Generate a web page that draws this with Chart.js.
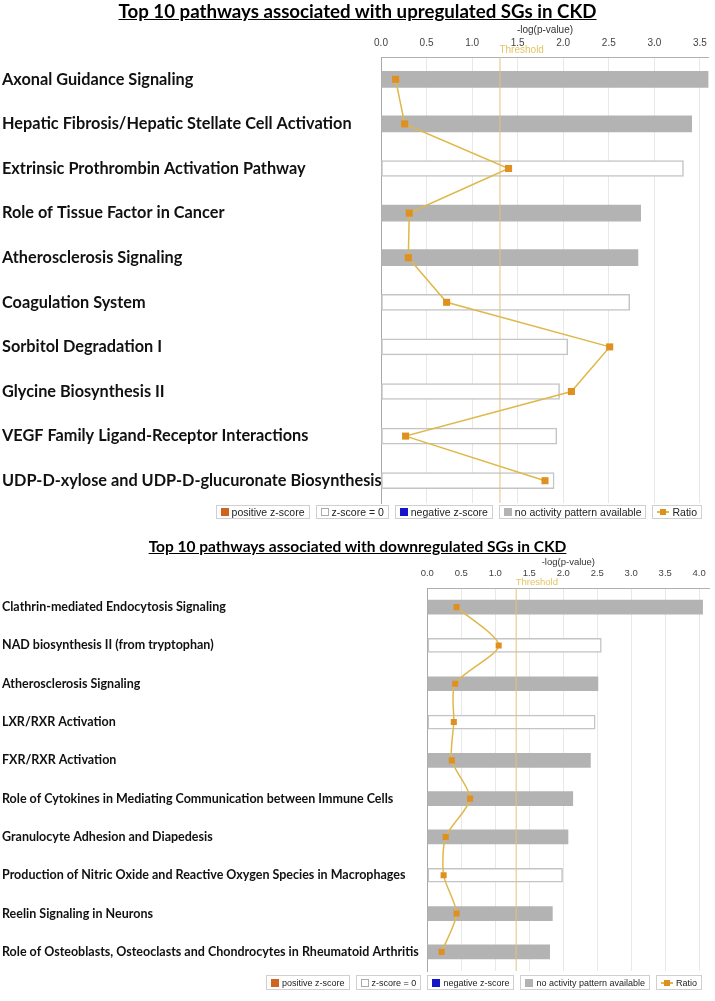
<!DOCTYPE html>
<html>
<head>
<meta charset="utf-8">
<script src="https://cdn.jsdelivr.net/npm/chart.js@4.4.1/dist/chart.umd.min.js"></script>
<style>
  body { margin: 0; background: #fff; }
  #page { position: relative; width: 715px; height: 1001px; overflow: hidden; font-family: Lato, sans-serif; }
  .title { position: absolute; left: 0; width: 715px; text-align: center; font-weight: bold; text-decoration: underline; color: #000; white-space: nowrap; }
  .chartBox { position: absolute; left: 0; width: 715px; }
  .legend { position: absolute; display: flex; font-family: "Liberation Sans", sans-serif; color: #222; }
  .legend .item { display: flex; align-items: center; border: 1px solid #d0d0d0; padding: 0 4px; margin-left: 6px; white-space: nowrap; }
  .legend .sw { display: inline-block; width: 8px; height: 8px; margin-right: 3px; box-sizing: border-box; }
  .legend .ratio { position: relative; width: 12px; height: 8px; margin-right: 3px; }
  .legend .ratio:before { content: ""; position: absolute; left: 0; right: 0; top: 3px; height: 2px; background: #dfb84a; }
  .legend .ratio:after { content: ""; position: absolute; left: 3px; top: 1px; width: 6px; height: 6px; background: #e0901e; }
</style>
</head>
<body>
<div id="page">
  <div class="chartBox" style="top:0; height:513px;"><canvas id="upChart"></canvas></div>
  <div class="title" style="top:0; font-size:18.7px;">Top 10 pathways associated with upregulated SGs in CKD</div>
  <div class="legend" id="upLegend" style="top:505px; right:13px; font-size:10.5px; height:14px;"></div>

  <div class="chartBox" style="top:540px; height:439px;"><canvas id="downChart"></canvas></div>
  <div class="title" style="top:537px; font-size:15.5px;">Top 10 pathways associated with downregulated SGs in CKD</div>
  <div class="legend" id="downLegend" style="top:975px; right:13px; font-size:9px; height:15px;"></div>
</div>
<script>
// upregulated pathways
const upLabels = [
  "Axonal Guidance Signaling",
  "Hepatic Fibrosis/Hepatic Stellate Cell Activation",
  "Extrinsic Prothrombin Activation Pathway",
  "Role of Tissue Factor in Cancer",
  "Atherosclerosis Signaling",
  "Coagulation System",
  "Sorbitol Degradation I",
  "Glycine Biosynthesis II",
  "VEGF Family Ligand-Receptor Interactions",
  "UDP-D-xylose and UDP-D-glucuronate Biosynthesis"
];
const upLogP = [3.59, 3.41, 3.32, 2.85, 2.82, 2.73, 2.05, 1.96, 1.93, 1.90];
const upZscore = ["na", "na", "zero", "na", "na", "zero", "zero", "zero", "zero", "zero"];
const upRatio = [0.16, 0.26, 1.40, 0.31, 0.30, 0.72, 2.51, 2.09, 0.27, 1.80];
const upTicks = [0.0, 0.5, 1.0, 1.5, 2.0, 2.5, 3.0, 3.5];

// downregulated pathways
const downLabels = [
  "Clathrin-mediated Endocytosis Signaling",
  "NAD biosynthesis II (from tryptophan)",
  "Atherosclerosis Signaling",
  "LXR/RXR Activation",
  "FXR/RXR Activation",
  "Role of Cytokines in Mediating Communication between Immune Cells",
  "Granulocyte Adhesion and Diapedesis",
  "Production of Nitric Oxide and Reactive Oxygen Species in Macrophages",
  "Reelin Signaling in Neurons",
  "Role of Osteoblasts, Osteoclasts and Chondrocytes in Rheumatoid Arthritis"
];
const downLogP = [4.05, 2.56, 2.51, 2.47, 2.40, 2.14, 2.07, 1.99, 1.84, 1.80];
const downZscore = ["na", "zero", "na", "zero", "na", "na", "na", "zero", "na", "na"];
const downRatio = [0.43, 1.05, 0.41, 0.39, 0.36, 0.63, 0.27, 0.24, 0.43, 0.21];
const downTicks = [0.0, 0.5, 1.0, 1.5, 2.0, 2.5, 3.0, 3.5, 4.0];

const threshold = 1.3;

const legendItems = [
  { text: "positive z-score", kind: "pos" },
  { text: "z-score = 0", kind: "zero" },
  { text: "negative z-score", kind: "neg" },
  { text: "no activity pattern available", kind: "na" },
  { text: "Ratio", kind: "ratio" }
];

const kindFill = { na: "#b3b3b3", zero: "#ffffff", pos: "#d0641e", neg: "#1414c8" };
const kindBorder = { na: "#b3b3b3", zero: "#c4c4c4", pos: "#d0641e", neg: "#1414c8" };

const thresholdLine = {
  id: "thresholdLine",
  afterDatasetsDraw(chart, args, opts) {
    const ctx = chart.ctx;
    const x = chart.scales.x.getPixelForValue(opts.value);
    const { top, bottom } = chart.chartArea;
    ctx.save();
    ctx.strokeStyle = "#e4c27c";
    ctx.lineWidth = 1;
    ctx.beginPath();
    ctx.moveTo(x + 0.5, top);
    ctx.lineTo(x + 0.5, bottom);
    ctx.stroke();
    ctx.fillStyle = "rgba(222, 186, 70, 0.85)";
    ctx.font = opts.fontSize + 'px "Liberation Sans", sans-serif';
    ctx.textAlign = "left";
    ctx.textBaseline = "middle";
    ctx.fillText("Threshold", x, top - opts.lift);
    ctx.restore();
  }
};

function makeChart(id, o) {
  return new Chart(document.getElementById(id), {
    type: "bar",
    data: {
      labels: o.labels,
      datasets: [
        {
          type: "line",
          label: "Ratio",
          data: o.ratio,
          xAxisID: "xr",
          yAxisID: "y",
          indexAxis: "y",
          borderColor: "#dfb84a",
          borderWidth: 1.5,
          pointStyle: "rect",
          pointRadius: o.pointRadius,
          pointBackgroundColor: "#e0901e",
          pointBorderColor: "#e0901e",
          pointBorderWidth: 0,
          tension: o.tension,
          order: 0
        },
        {
          label: "-log(p-value)",
          data: o.values,
          xAxisID: "x",
          yAxisID: "y",
          backgroundColor: o.kind.map(k => kindFill[k]),
          borderColor: o.kind.map(k => kindBorder[k]),
          borderWidth: o.kind.map(k => (k === "zero" ? 1.5 : 0)),
          borderSkipped: false,
          barThickness: o.barThickness,
          order: 1
        }
      ]
    },
    options: {
      indexAxis: "y",
      responsive: true,
      maintainAspectRatio: false,
      animation: false,
      layout: { padding: { left: 2, right: o.padRight, top: 0, bottom: o.padBottom } },
      plugins: {
        legend: { display: false },
        tooltip: { enabled: false },
        thresholdLine: { value: threshold, fontSize: o.thrFont, lift: o.thrLift }
      },
      scales: {
        x: {
          position: "top",
          min: 0,
          max: o.max,
          afterFit: s => { s.height = o.axisHeight; },
          afterBuildTicks: s => { s.ticks = o.ticks.map(v => ({ value: v })); },
          ticks: {
            callback: v => Number(v).toFixed(1),
            color: "#444",
            font: { family: "Liberation Sans", size: o.tickFont },
            padding: o.tickPad,
            maxRotation: 0
          },
          grid: { color: "#e8e8e8", drawTicks: false },
          border: { color: "#b0b0b0" },
          title: {
            display: true,
            text: "-log(p-value)",
            color: "#333",
            font: { family: "Liberation Sans", size: o.tickFont },
            padding: { top: o.titlePad, bottom: 0 }
          }
        },
        xr: { display: false, position: "top", min: 0, max: o.max },
        y: {
          afterFit: s => { s.width = o.labelWidth; },
          ticks: {
            crossAlign: "far",
            autoSkip: false,
            color: "#111",
            padding: 0,
            font: { family: "Lato", weight: "bold", size: o.labelFont }
          },
          grid: { display: false },
          border: { color: "#a8a8a8" }
        }
      }
    },
    plugins: [thresholdLine]
  });
}

function buildLegend(id) {
  const box = document.getElementById(id);
  legendItems.forEach(it => {
    const item = document.createElement("div");
    item.className = "item";
    const sw = document.createElement("span");
    if (it.kind === "ratio") {
      sw.className = "ratio";
    } else {
      sw.className = "sw";
      sw.style.background = kindFill[it.kind];
      if (it.kind === "zero") sw.style.border = "1px solid #aaa";
    }
    item.appendChild(sw);
    item.appendChild(document.createTextNode(it.text));
    box.appendChild(item);
  });
}

makeChart("upChart", {
  labels: upLabels, values: upLogP, kind: upZscore, ratio: upRatio, ticks: upTicks,
  max: 3.6, padRight: 2, padBottom: 10, axisHeight: 57, titlePad: 24, tickPad: 8,
  labelWidth: 379, labelFont: 16.3, tickFont: 10, barThickness: 16, pointRadius: 5,
  tension: 0, thrFont: 10, thrLift: 7
});

makeChart("downChart", {
  labels: downLabels, values: downLogP, kind: downZscore, ratio: downRatio, ticks: downTicks,
  max: 4.15, padRight: 2.6, padBottom: 8, axisHeight: 48, titlePad: 17, tickPad: 9,
  labelWidth: 425.3, labelFont: 12.5, tickFont: 9.5, barThickness: 14, pointRadius: 4.3,
  tension: 0.25, thrFont: 9.5, thrLift: 6
});

buildLegend("upLegend");
buildLegend("downLegend");
</script>
</body>
</html>
